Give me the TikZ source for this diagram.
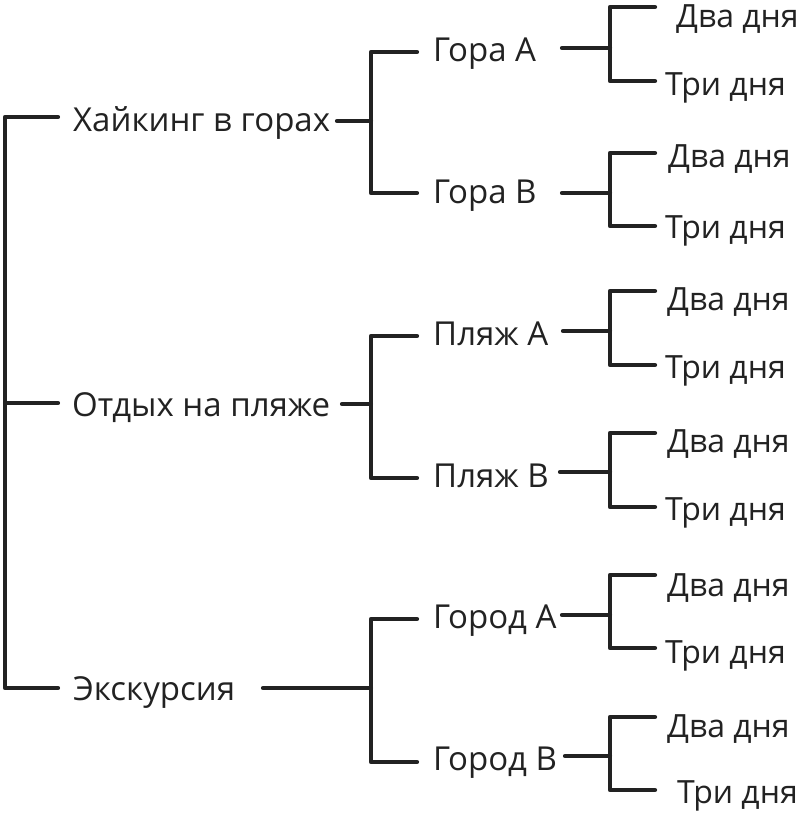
\documentclass[tikz,border=0pt]{standalone}
\usepackage{fontspec}
\setmainfont{Open Sans}
\definecolor{ink}{HTML}{222222}
\tikzset{
  lbl/.style={anchor=base west, inner sep=0pt, text=ink, font=\fontsize{33}{40}\selectfont},
  leaf/.style={lbl, font=\fontsize{32}{39}\selectfont},
  conn/.style={draw=ink, line width=4.2pt, line cap=round, line join=round}
}
\begin{document}
\begin{tikzpicture}[x=1pt,y=-1pt]
\useasboundingbox (0,0) rectangle (800,816);
% level 1
\node[lbl] (hk) at (73,131) {Хайкинг в горах};
\node[lbl] (ot) at (72,416) {Отдых на пляже};
\node[lbl] (ek) at (73,700) {Экскурсия};
% level 2
\node[lbl] (ga) at (433,61) {Гора А};
\node[lbl] (gb) at (433,203) {Гора В};
\node[lbl] (pa) at (433,345) {Пляж А};
\node[lbl] (pb) at (433,487) {Пляж В};
\node[lbl] (ca) at (433,628) {Город А};
\node[lbl] (cb) at (433,770) {Город В};
% leaves
\node[leaf] (ga2) at (676,28) {Два дня};
\node[leaf] (ga3) at (665,95) {Три дня};
\node[leaf] (gb2) at (668,167) {Два дня};
\node[leaf] (gb3) at (665,238) {Три дня};
\node[leaf] (pa2) at (667,310) {Два дня};
\node[leaf] (pa3) at (665,378) {Три дня};
\node[leaf] (pb2) at (667,452) {Два дня};
\node[leaf] (pb3) at (665,520) {Три дня};
\node[leaf] (ca2) at (667,596) {Два дня};
\node[leaf] (ca3) at (665,663) {Три дня};
\node[leaf] (cb2) at (667,737) {Два дня};
\node[leaf] (cb3) at (677,803) {Три дня};
% root bracket
\coordinate (r1) at (58,117);
\coordinate (r2) at (58,403);
\coordinate (r3) at (58,688);
\draw[conn] (r1) -- (5,117) -- (5,688) -- (r3);
\draw[conn] (5,403) -- (r2);
% level-2 brackets
\coordinate (hkE) at (337,121);
\coordinate (otE) at (342,404);
\coordinate (ekE) at (263,688);
\draw[conn] (hkE) -- (371,121);
\draw[conn] (417,52) -- (371,52) -- (371,193) -- (417,193);
\draw[conn] (otE) -- (371,404);
\draw[conn] (417,336) -- (371,336) -- (371,478) -- (417,478);
\draw[conn] (ekE) -- (371,688);
\draw[conn] (417,619) -- (371,619) -- (371,762) -- (417,762);
% leaf brackets
\foreach \tx/\ty/\top/\bot in {562/48/7/81, 562/193/153/226, 563/331/291/365, 560/472/433/507, 562/615/575/648, 565/756/717/790}{
  \draw[conn] (\tx,\ty) -- (610,\ty);
  \draw[conn] (655,\top) -- (610,\top) -- (610,\bot) -- (655,\bot);
}
\end{tikzpicture}
\end{document}
